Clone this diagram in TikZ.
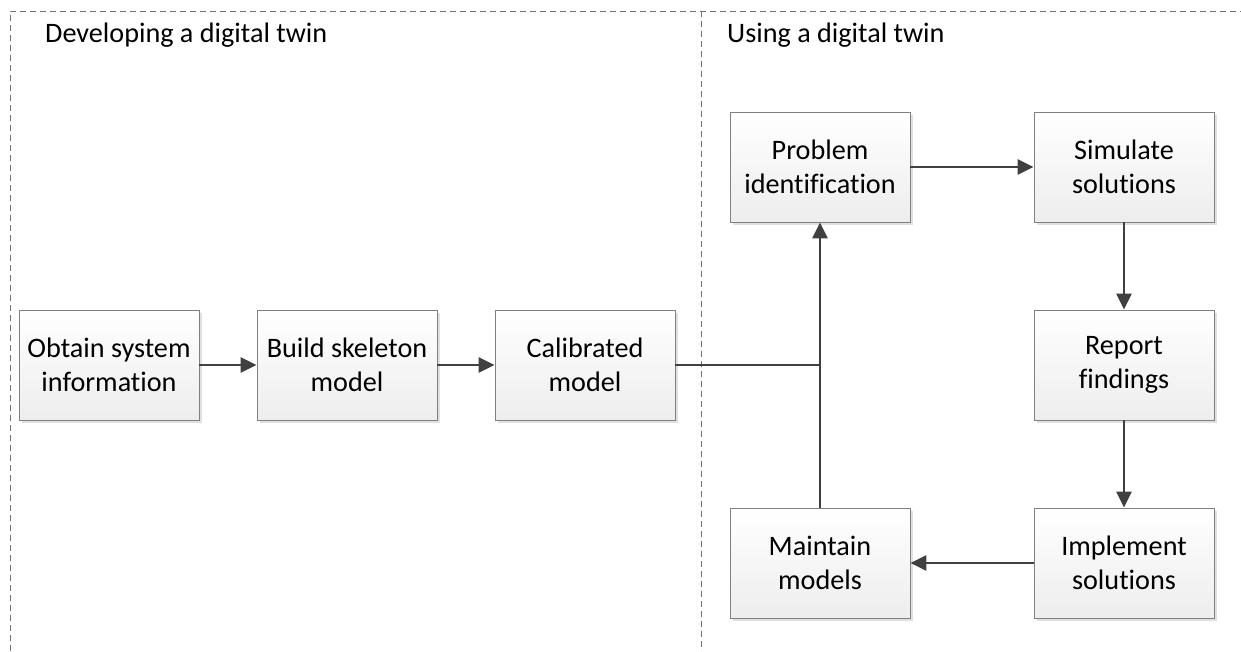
\documentclass[tikz,border=0pt]{standalone}
\usepackage{fontspec}
\setmainfont{Carlito}[Ligatures=NoCommon]
\usetikzlibrary{arrows.meta,shadows}

\tikzset{
  stagebox/.style={draw=black!50, line width=0.9pt, minimum width=180pt, minimum height=110pt,
    top color=white, bottom color=black!7, align=center, inner sep=0pt,
    font=\fontsize{28.2}{34}\selectfont,
    drop shadow={shadow xshift=3pt, shadow yshift=-3pt, fill=black!12, opacity=1}},
  flow/.style={draw=black!75, line width=2.6pt, -{Triangle[length=16pt,width=15pt]}},
  flowline/.style={draw=black!75, line width=2.6pt},
  region/.style={draw=black!55, line width=0.9pt, dash pattern=on 6pt off 4pt},
  heading/.style={anchor=base west, inner sep=0pt, font=\fontsize{28.2}{34}\selectfont}
}

\begin{document}
\begin{tikzpicture}[x=1pt, y=-1pt]
  \useasboundingbox (0,0) rectangle (1241,651);

  % dashed region frames
  \draw[region] (10,651) -- (10,11) -- (1241,11);
  \draw[region] (701,11) -- (701,651);

  \node[heading] (devtitle) at (45,42) {Developing a digital twin};
  \node[heading] (usetitle) at (727,42) {Using a digital twin};

  % development stages
  \node[stagebox] (obtain) at (109,365) {Obtain system\\information};
  \node[stagebox] (build)  at (347,365) {Build skeleton\\model};
  \node[stagebox] (calib)  at (585,365) {Calibrated\\model};

  % usage cycle
  \node[stagebox] (problem)   at (820,167)  {Problem\\identification};
  \node[stagebox] (simulate)  at (1124,167) {Simulate\\solutions};
  \node[stagebox] (report)    at (1124,365) {Report\\findings};
  \node[stagebox] (implement) at (1124,563) {Implement\\solutions};
  \node[stagebox] (maintain)  at (820,563)  {Maintain\\models};

  \draw[flow] (obtain) -- (build);
  \draw[flow] (build) -- (calib);

  \coordinate (join) at (calib.east -| maintain.north);
  \draw[flowline] (calib.east) -- (join);
  \draw[flow] (maintain.north) -- (problem.south);

  \draw[flow] (problem) -- (simulate);
  \draw[flow] (simulate) -- (report);
  \draw[flow] (report) -- (implement);
  \draw[flow] (implement) -- (maintain);
\end{tikzpicture}
\end{document}
